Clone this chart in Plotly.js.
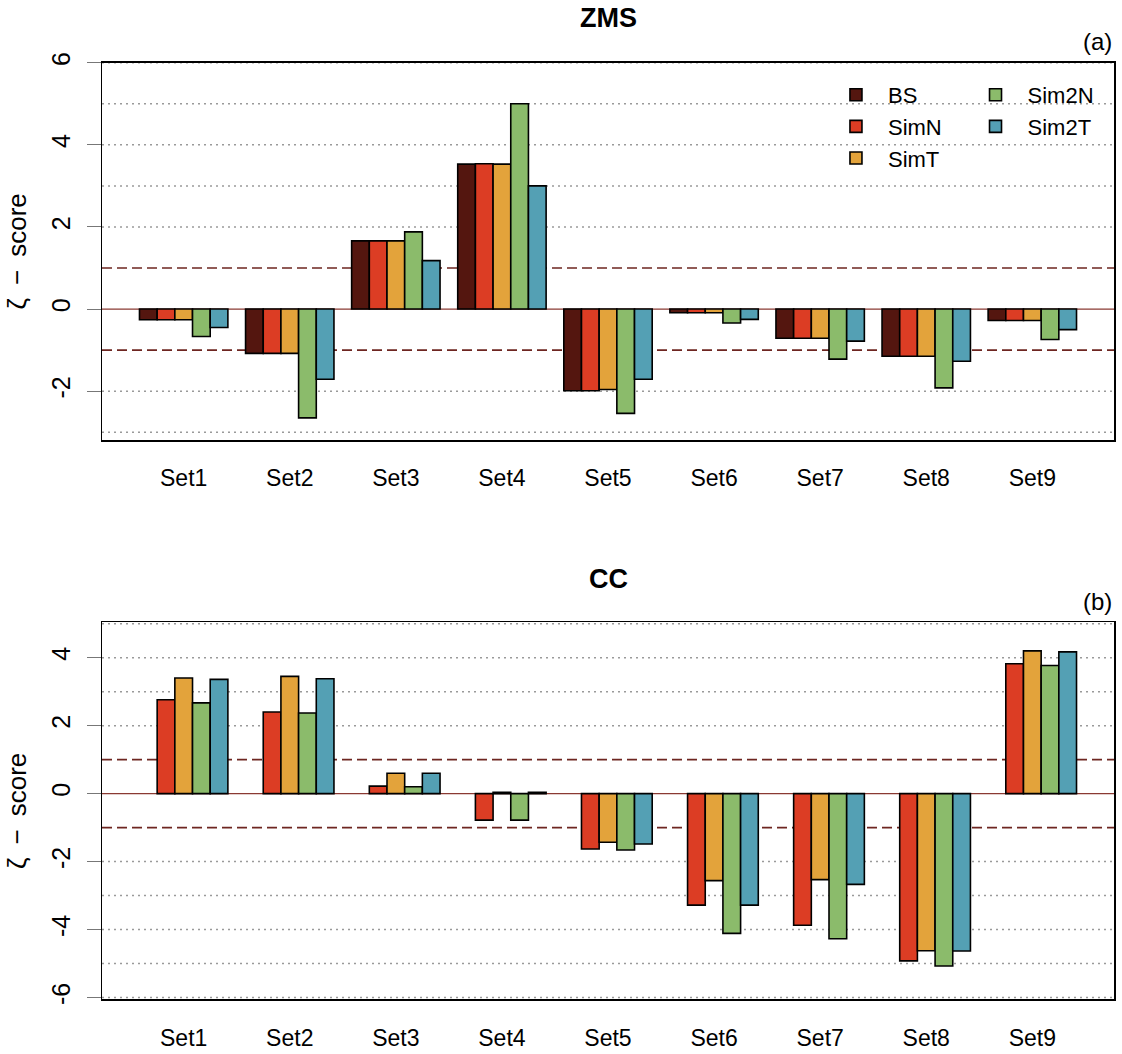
<!DOCTYPE html>
<html>
<head>
<meta charset="utf-8">
<script src="https://cdn.plot.ly/plotly-3.0.1.min.js"></script>
<style>html,body{margin:0;padding:0;background:#fff}#chart{width:1122px;height:1054px}</style>
</head>
<body>
<div id="chart"></div>
<script>
const categories = ['Set1','Set2','Set3','Set4','Set5','Set6','Set7','Set8','Set9'];
const seriesNames = ['BS','SimN','SimT','Sim2N','Sim2T'];
const seriesColors = ['#54160F','#DC3D24','#E3A33B','#8BBB6B','#54A0B4'];

// Panel (a) ZMS
const zmsBS    = [-0.26,-1.08,1.66,3.53,-1.99,-0.09,-0.71,-1.15,-0.28];
const zmsSimN  = [-0.26,-1.08,1.66,3.54,-1.99,-0.09,-0.71,-1.15,-0.28];
const zmsSimT  = [-0.26,-1.08,1.66,3.53,-1.96,-0.09,-0.71,-1.15,-0.28];
const zmsSim2N = [-0.67,-2.65,1.88,5.00,-2.54,-0.34,-1.22,-1.92,-0.74];
const zmsSim2T = [-0.45,-1.71,1.18,3.00,-1.71,-0.25,-0.78,-1.27,-0.50];

// Panel (b) CC (no BS values)
const ccSimN  = [2.76,2.40,0.22,-0.78,-1.63,-3.28,-3.87,-4.92,3.82];
const ccSimT  = [3.40,3.45,0.60,0.04,-1.43,-2.56,-2.53,-4.62,4.20];
const ccSim2N = [2.67,2.37,0.20,-0.78,-1.66,-4.11,-4.27,-5.07,3.77];
const ccSim2T = [3.36,3.38,0.60,0.04,-1.48,-3.28,-2.67,-4.63,4.17];

const zmsTicks = [-2,0,2,4,6];
const zmsTickLabels = ['-2','0','2','4','6'];
const ccTicks  = [-6,-4,-2,0,2,4];
const ccTickLabels = ['-6','-4','-2','0','2','4'];
const zmsGrid  = [-3,-2,2,3,4,5,6];
const ccGrid   = [-6,-5,-4,-3,-2,2,3,4,5];
const thresholds = [-1,1];

const FONT = 'Liberation Sans, Arial, Helvetica, sans-serif';
const nSlots = seriesNames.length;
const slotW = 1/(nSlots+1);

const zmsSeries = [zmsBS, zmsSimN, zmsSimT, zmsSim2N, zmsSim2T];
const ccSeries  = [null, ccSimN, ccSimT, ccSim2N, ccSim2T];

const traces = [];
zmsSeries.forEach((vals, k) => {
  traces.push({
    type:'bar', x:categories, y:vals, name:seriesNames[k],
    xaxis:'x', yaxis:'y',
    width:slotW, offset:(k - nSlots/2)*slotW,
    marker:{color:seriesColors[k], line:{color:'#000', width:1.6}},
    legend: k < 3 ? 'legend' : 'legend2',
    hoverinfo:'x+y+name'
  });
});
ccSeries.forEach((vals, k) => {
  if (!vals) return;
  traces.push({
    type:'bar', x:categories, y:vals, name:seriesNames[k],
    xaxis:'x2', yaxis:'y2', showlegend:false,
    width:slotW, offset:(k - nSlots/2)*slotW,
    marker:{color:seriesColors[k], line:{color:'#000', width:1.6}},
    hoverinfo:'x+y+name'
  });
});

function hline(xref, yref, v, line){
  return {type:'line', xref:xref+' domain', x0:0, x1:1, yref:yref, y0:v, y1:v, line:line, layer:'below'};
}
const gridLine = {color:'#9a9a9a', width:1.5, dash:'2px,4px'};
const threshLine = {color:'#6e2621', width:1.6, dash:'10px,5px'};
const zeroLine = {color:'#8a3a33', width:1.2};

const shapes = [];
zmsGrid.forEach(v => shapes.push(hline('x','y',v,gridLine)));
ccGrid.forEach(v => shapes.push(hline('x2','y2',v,gridLine)));
thresholds.forEach(v => { shapes.push(hline('x','y',v,threshLine)); shapes.push(hline('x2','y2',v,threshLine)); });
shapes.push(hline('x','y',0,zeroLine));
shapes.push(hline('x2','y2',0,zeroLine));

const xCommon = {
  type:'category', categoryarray:categories, range:[-0.77, 8.77],
  showline:true, mirror:true, linecolor:'#000', linewidth:1.5,
  ticks:'', showgrid:false, zeroline:false,
  tickfont:{family:FONT, size:23, color:'#000'},
  automargin:false, fixedrange:true
};
const yCommon = {
  showline:true, mirror:true, linecolor:'#000', linewidth:1.5,
  ticks:'outside', ticklen:14, tickwidth:1, tickcolor:'#777',
  tickangle:-90, showgrid:false, zeroline:false,
  tickfont:{family:FONT, size:25, color:'#000'},
  ticklabelstandoff:7,
  automargin:false, fixedrange:true,
  title:{text:'ζ\u2002−\u2002score', font:{family:FONT, size:26, color:'#000'}, standoff:12}
};

const legendCommon = {xanchor:'left', y:0.9298, yanchor:'top', bgcolor:'rgba(0,0,0,0)', borderwidth:0,
  font:{family:FONT, size:22, color:'#000'}, itemwidth:54, tracegroupgap:0, traceorder:'normal'};

const layout = {
  width:1122, height:1054,
  margin:{l:102, r:8, t:0, b:0},
  paper_bgcolor:'#fff', plot_bgcolor:'#fff',
  barmode:'overlay',
  font:{family:FONT, color:'#000'},
  xaxis:Object.assign({}, xCommon, {domain:[0,1], anchor:'y', ticklabelstandoff:17}),
  xaxis2:Object.assign({}, xCommon, {domain:[0,1], anchor:'y2', ticklabelstandoff:18}),
  yaxis:Object.assign({}, yCommon, {domain:[0.5825,0.9405], range:[-3.19,6.0], tickvals:zmsTicks, ticktext:zmsTickLabels, anchor:'x'}),
  yaxis2:Object.assign({}, yCommon, {domain:[0.0519,0.4096], range:[-6.05,5.04], tickvals:ccTicks, ticktext:ccTickLabels, anchor:'x2'}),
  shapes:shapes,
  legend:Object.assign({}, legendCommon, {x:0.7134}),
  legend2:Object.assign({}, legendCommon, {x:0.8513}),
  annotations:[
    {text:'<b>ZMS</b>', xref:'paper', yref:'paper', x:0.5, y:1-18/1054, xanchor:'center', yanchor:'middle', showarrow:false, font:{family:FONT, size:27, color:'#000'}},
    {text:'<b>CC</b>', xref:'paper', yref:'paper', x:0.5, y:1-579/1054, xanchor:'center', yanchor:'middle', showarrow:false, font:{family:FONT, size:27, color:'#000'}},
    {text:'(a)', xref:'paper', yref:'paper', x:1, y:1-42/1054, xanchor:'right', yanchor:'middle', showarrow:false, font:{family:FONT, size:24, color:'#000'}},
    {text:'(b)', xref:'paper', yref:'paper', x:1, y:1-601/1054, xanchor:'right', yanchor:'middle', showarrow:false, font:{family:FONT, size:24, color:'#000'}}
  ],
  showlegend:true
};

Plotly.newPlot('chart', traces, layout, {displayModeBar:false, staticPlot:true});
</script>
</body>
</html>
